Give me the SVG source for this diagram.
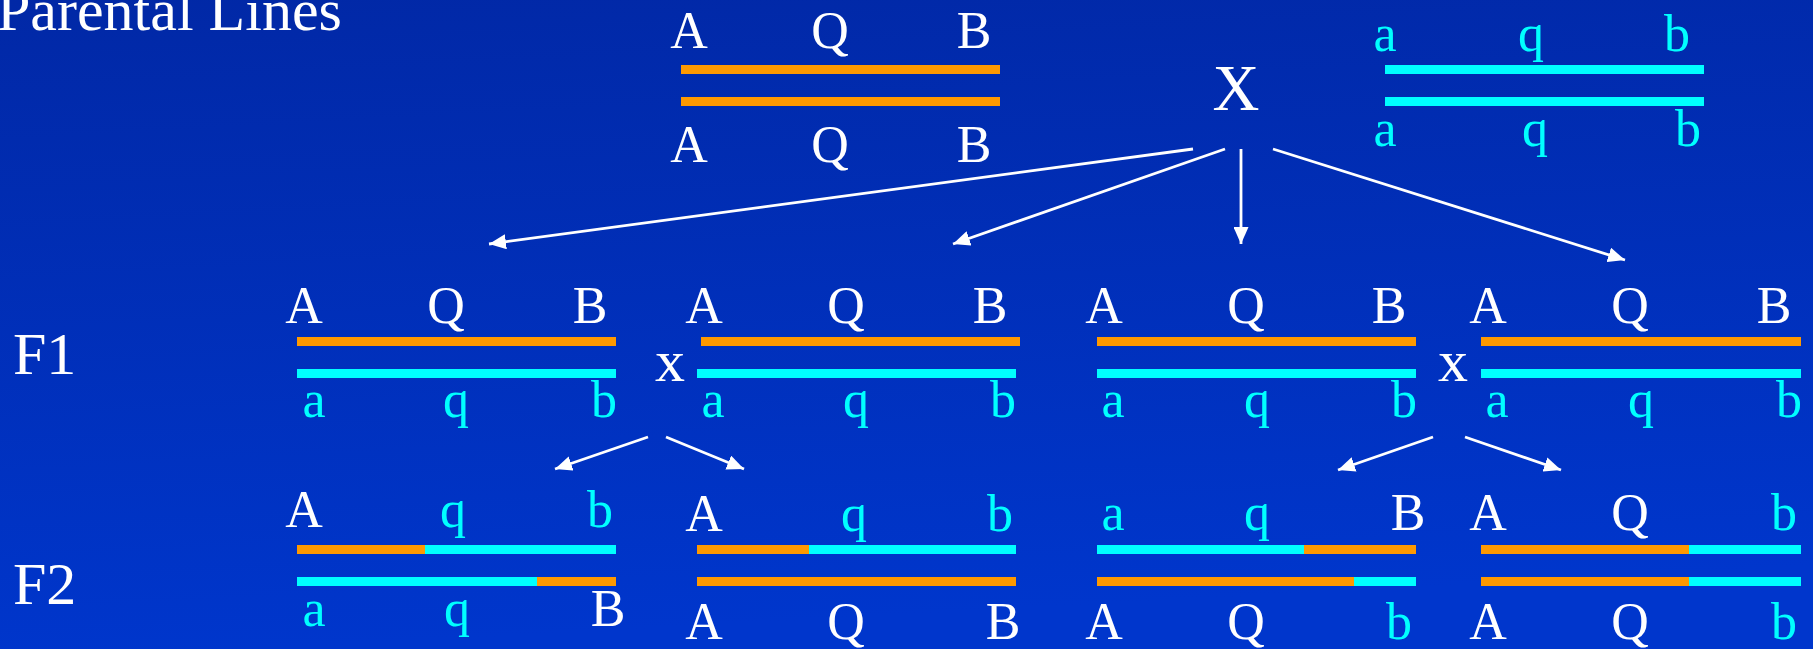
<svg xmlns="http://www.w3.org/2000/svg" width="1813" height="649" viewBox="0 0 1813 649">
  <defs>
    <linearGradient id="bg" x1="0" y1="0" x2="0.15" y2="1">
      <stop offset="0" stop-color="#0128A6"/>
      <stop offset="1" stop-color="#0036CC"/>
    </linearGradient>
    <marker id="ah" markerWidth="17" markerHeight="15" refX="17" refY="7.5" orient="auto" markerUnits="userSpaceOnUse">
      <path d="M0,0 L17,7.5 L0,15 z" fill="#FFFFFF"/>
    </marker>
  </defs>
  <style>
    text { font-family: "Liberation Serif", "Times New Roman", serif; text-anchor: middle; }
    .U { fill: #FFFFFF; font-size: 52px; }
    .L { fill: #00FFFF; font-size: 52px; }
    .T { fill: #FFFFFF; font-size: 60px; text-anchor: start; }
    .o { fill: #FF9900; }
    .c { fill: #00FFFF; }
    .conn line { stroke: #FFFFFF; stroke-width: 2.8; marker-end: url(#ah); }
  </style>
  <rect x="0" y="0" width="1813" height="649" fill="url(#bg)"/>

  <g id="title"><text class="T" x="-3" y="30">Parental Lines</text></g>
  <g id="label-F1"><text class="T" x="13" y="374">F1</text></g>
  <g id="label-F2"><text class="T" x="13" y="604">F2</text></g>

  <g id="parent-AQB">
    <rect class="o" x="681" y="65" width="319" height="9"/>
    <rect class="o" x="681" y="97" width="319" height="9"/>
    <text class="U" x="689" y="48">A</text><text class="U" x="830" y="48">Q</text><text class="U" x="974" y="48">B</text>
    <text class="U" x="689" y="162">A</text><text class="U" x="830" y="162">Q</text><text class="U" x="974" y="162">B</text>
  </g>
  <g id="cross-X"><text x="1236" y="110" style="fill:#FFFFFF;font-size:65px">X</text></g>
  <g id="parent-aqb">
    <rect class="c" x="1385" y="65" width="319" height="9"/>
    <rect class="c" x="1385" y="97" width="319" height="9"/>
    <text class="L" x="1385" y="51">a</text><text class="L" x="1531" y="51">q</text><text class="L" x="1677" y="51">b</text>
    <text class="L" x="1385" y="146">a</text><text class="L" x="1535" y="146">q</text><text class="L" x="1688" y="146">b</text>
  </g>

  <g id="F1-1">
    <rect class="o" x="297" y="337" width="319" height="9"/>
    <rect class="c" x="297" y="369" width="319" height="9"/>
    <text class="U" x="304" y="323">A</text><text class="U" x="446" y="323">Q</text><text class="U" x="590" y="323">B</text>
    <text class="L" x="314" y="417">a</text><text class="L" x="456" y="417">q</text><text class="L" x="604" y="417">b</text>
  </g>
  <g id="cross-x1"><text x="670" y="381" style="fill:#FFFFFF;font-size:60px">x</text></g>
  <g id="F1-2">
    <rect class="o" x="701" y="337" width="319" height="9"/>
    <rect class="c" x="697" y="369" width="319" height="9"/>
    <text class="U" x="704" y="323">A</text><text class="U" x="846" y="323">Q</text><text class="U" x="990" y="323">B</text>
    <text class="L" x="713" y="417">a</text><text class="L" x="856" y="417">q</text><text class="L" x="1003" y="417">b</text>
  </g>
  <g id="F1-3">
    <rect class="o" x="1097" y="337" width="319" height="9"/>
    <rect class="c" x="1097" y="369" width="319" height="9"/>
    <text class="U" x="1104" y="323">A</text><text class="U" x="1246" y="323">Q</text><text class="U" x="1389" y="323">B</text>
    <text class="L" x="1113" y="417">a</text><text class="L" x="1257" y="417">q</text><text class="L" x="1404" y="417">b</text>
  </g>
  <g id="cross-x2"><text x="1453" y="381" style="fill:#FFFFFF;font-size:60px">x</text></g>
  <g id="F1-4">
    <rect class="o" x="1481" y="337" width="320" height="9"/>
    <rect class="c" x="1481" y="369" width="320" height="9"/>
    <text class="U" x="1488" y="323">A</text><text class="U" x="1630" y="323">Q</text><text class="U" x="1774" y="323">B</text>
    <text class="L" x="1497" y="417">a</text><text class="L" x="1641" y="417">q</text><text class="L" x="1789" y="417">b</text>
  </g>

  <g id="F2-1">
    <rect class="o" x="297" y="545" width="128" height="9"/><rect class="c" x="425" y="545" width="191" height="9"/>
    <rect class="c" x="297" y="577" width="240" height="9"/><rect class="o" x="537" y="577" width="79" height="9"/>
    <text class="U" x="304" y="527">A</text><text class="L" x="453" y="527">q</text><text class="L" x="600" y="527">b</text>
    <text class="L" x="314" y="626">a</text><text class="L" x="457" y="626">q</text><text class="U" x="608" y="626">B</text>
  </g>
  <g id="F2-2">
    <rect class="o" x="697" y="545" width="112" height="9"/><rect class="c" x="809" y="545" width="207" height="9"/>
    <rect class="o" x="697" y="577" width="319" height="9"/>
    <text class="U" x="704" y="531">A</text><text class="L" x="854" y="531">q</text><text class="L" x="1000" y="531">b</text>
    <text class="U" x="704" y="639">A</text><text class="U" x="846" y="639">Q</text><text class="U" x="1003" y="639">B</text>
  </g>
  <g id="F2-3">
    <rect class="c" x="1097" y="545" width="207" height="9"/><rect class="o" x="1304" y="545" width="112" height="9"/>
    <rect class="o" x="1097" y="577" width="257" height="9"/><rect class="c" x="1354" y="577" width="62" height="9"/>
    <text class="L" x="1113" y="530">a</text><text class="L" x="1257" y="530">q</text><text class="U" x="1408" y="530">B</text>
    <text class="U" x="1104" y="639">A</text><text class="U" x="1246" y="639">Q</text><text class="L" x="1399" y="639">b</text>
  </g>
  <g id="F2-4">
    <rect class="o" x="1481" y="545" width="208" height="9"/><rect class="c" x="1689" y="545" width="112" height="9"/>
    <rect class="o" x="1481" y="577" width="208" height="9"/><rect class="c" x="1689" y="577" width="112" height="9"/>
    <text class="U" x="1488" y="530">A</text><text class="U" x="1630" y="530">Q</text><text class="L" x="1784" y="530">b</text>
    <text class="U" x="1488" y="639">A</text><text class="U" x="1630" y="639">Q</text><text class="L" x="1784" y="639">b</text>
  </g>

  <g id="connectors" class="conn">
    <line x1="1193" y1="149" x2="489" y2="244"/>
    <line x1="1225" y1="149" x2="953" y2="244"/>
    <line x1="1241" y1="149" x2="1241" y2="244"/>
    <line x1="1273" y1="149" x2="1625" y2="260"/>
    <line x1="648" y1="437" x2="555" y2="469"/>
    <line x1="666" y1="437" x2="744" y2="469"/>
    <line x1="1433" y1="437" x2="1338" y2="470"/>
    <line x1="1465" y1="437" x2="1561" y2="470"/>
  </g>
</svg>
